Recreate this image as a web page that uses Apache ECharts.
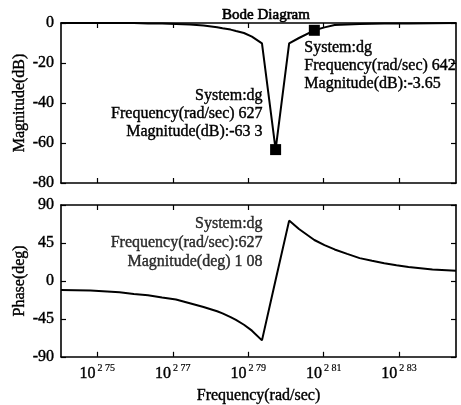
<!DOCTYPE html>
<html>
<head>
<meta charset="utf-8">
<script src="https://cdn.jsdelivr.net/npm/echarts/dist/echarts.min.js"></script>
<style>
  html, body { margin: 0; padding: 0; background: #fff; }
  #chart { width: 461px; height: 405px; }
</style>
</head>
<body>
<div id="chart"></div>
<script>
// 频率点 (rad/sec) 与读出的幅值/相位
const freqs = [550, 560, 570, 575, 580, 585, 590, 595, 600, 605, 607, 610, 612, 615, 618, 621.8, 627, 632.2, 636, 642, 646, 650, 655, 660, 665, 670, 675, 680, 690, 700];
const magnitudeDb = [0, 0, 0, 0, -0.2, -0.3, -0.5, -0.8, -1.3, -2.1, -2.6, -3.3, -4.0, -5, -6.8, -10.2, -63.3, -10.2, -7.5, -3.65, -2.2, -1.0, -0.7, -0.5, -0.4, -0.3, -0.25, -0.2, -0.1, 0];
const phaseDeg = [-10.7, -11.3, -13.5, -15.5, -17, -19.8, -22, -26.5, -31, -36, -38.5, -43, -46.3, -52, -59, -70.5, 1.08, 71.5, 61.5, 48.5, 42.5, 37.3, 32, 27, 23.8, 21, 18.5, 16.5, 13.5, 12];

const freqRange = [550, 700];
const tickExps = [2.75, 2.77, 2.79, 2.81, 2.83];
const tickSup = ['2 75', '2 77', '2 79', '2 81', '2 83'];

// 数据提示 (datatip)
const magMarks = [[627, -63.3], [642, -3.65]];
const magTexts = [
  ['System:dg', 'Frequency(rad/sec) 627', 'Magnitude(dB):-63 3'],
  ['System:dg', 'Frequency(rad/sec) 642', 'Magnitude(dB):-3.65']
];
const phaseMark = [627, 1.08];
const phaseText = ['System:dg', 'Frequency(rad/sec):627', 'Magnitude(deg) 1 08'];

const FONT = "'Liberation Serif', 'Times New Roman', serif";
const INK = { color: '#000', textBorderColor: '#000', textBorderWidth: 0.4 };
const lg = f => Math.log10(f);

const myChart = echarts.init(document.getElementById('chart'));

const lineAxis = { lineStyle: { color: '#000', width: 1.6 } };
const tickIn = { inside: true, length: 5, lineStyle: { color: '#000', width: 1.2 } };

function xAx(grid, pos, withLabel) {
  return {
    type: 'value', gridIndex: grid, position: pos,
    min: lg(freqRange[0]), max: lg(freqRange[1]),
    axisLine: { ...lineAxis, onZero: false },
    axisTick: { ...tickIn, customValues: tickExps },
    splitLine: { show: false },
    axisLabel: withLabel ? {
      customValues: tickExps,
      margin: 7,
      formatter: v => {
        const i = tickExps.findIndex(t => Math.abs(t - v) < 1e-6);
        return '{b|10}{s|' + tickSup[i] + '}';
      },
      rich: {
        b: { fontFamily: FONT, fontSize: 16, lineHeight: 20, ...INK },
        s: { fontFamily: FONT, fontSize: 10, verticalAlign: 'top', padding: [0, 0, 0, 2], ...INK, textBorderWidth: 0.2 }
      }
    } : { show: false },
    name: withLabel ? 'Frequency(rad/sec)' : '',
    nameLocation: 'middle', nameGap: 31, nameMoveOverlap: false,
    nameTextStyle: { fontFamily: FONT, fontSize: 16, ...INK }
  };
}

function yAx(grid, pos, min, max, step, name) {
  return {
    type: 'value', gridIndex: grid, position: pos,
    min: min, max: max, interval: step,
    axisLine: { ...lineAxis, onZero: false },
    axisTick: tickIn,
    splitLine: { show: false },
    axisLabel: name ? { fontFamily: FONT, fontSize: 16, margin: 7, ...INK } : { show: false },
    name: name || '', nameLocation: 'middle', nameGap: 33, nameMoveOverlap: false,
    nameTextStyle: { fontFamily: FONT, fontSize: 16, ...INK }
  };
}

function tipLabel(lines, align, dx, dy, lh) {
  return {
    show: true, position: 'inside', align: align, verticalAlign: 'middle',
    offset: [dx, dy], formatter: lines.join('\n'),
    fontFamily: FONT, fontSize: 16, lineHeight: lh, ...INK
  };
}

myChart.setOption({
  animation: false,
  backgroundColor: '#fff',
  title: {
    text: 'Bode Diagram', left: 261, top: 3, textAlign: 'center',
    textStyle: { fontFamily: FONT, fontSize: 15, fontWeight: 'normal', ...INK, textBorderWidth: 0.6 }
  },
  grid: [
    { left: 61, right: 5, top: 23, height: 160 },
    { left: 61, right: 5, top: 205, height: 154 }
  ],
  xAxis: [xAx(0, 'bottom', false), xAx(0, 'top', false), xAx(1, 'bottom', true), xAx(1, 'top', false)],
  yAxis: [
    yAx(0, 'left', -80, 0, 20, 'Magnitude(dB)'), yAx(0, 'right', -80, 0, 20),
    yAx(1, 'left', -90, 90, 45, 'Phase(deg)'), yAx(1, 'right', -90, 90, 45)
  ],
  series: [
    {
      type: 'line', xAxisIndex: 0, yAxisIndex: 0, symbol: 'none',
      lineStyle: { color: '#000', width: 2 },
      data: freqs.map((f, i) => [lg(f), magnitudeDb[i]])
    },
    {
      type: 'line', xAxisIndex: 2, yAxisIndex: 2, symbol: 'none',
      lineStyle: { color: '#000', width: 2 },
      data: freqs.map((f, i) => [lg(f), phaseDeg[i]])
    },
    {
      type: 'scatter', xAxisIndex: 0, yAxisIndex: 0, symbol: 'rect', symbolSize: 11,
      itemStyle: { color: '#000', opacity: 1 }, z: 5,
      data: [
        { value: [lg(magMarks[0][0]), magMarks[0][1]], label: tipLabel(magTexts[0], 'right', -13, -36, 18) },
        { value: [lg(magMarks[1][0]), magMarks[1][1]], label: tipLabel(magTexts[1], 'left', -10, 35, 18) }
      ]
    },
    {
      type: 'scatter', xAxisIndex: 2, yAxisIndex: 2, symbolSize: 1,
      itemStyle: { color: 'rgba(0,0,0,0)' },
      data: [
        { value: [lg(phaseMark[0]), phaseMark[1]], label: tipLabel(phaseText, 'right', -13, -37, 19) }
      ]
    }
  ]
});
</script>
</body>
</html>
